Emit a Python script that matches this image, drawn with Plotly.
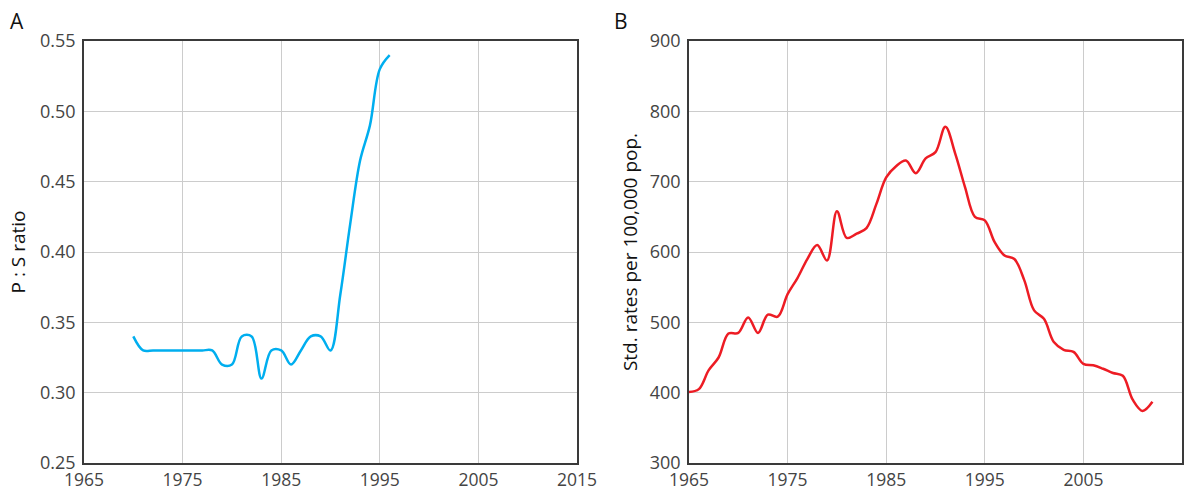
import plotly.graph_objects as go
from plotly.subplots import make_subplots

# Panel A: P:S ratio
years_a = list(range(1970, 1997))
ps_ratio = [0.34, 0.33, 0.33, 0.33, 0.33, 0.33, 0.33, 0.33, 0.33, 0.32,
            0.32, 0.34, 0.34, 0.31, 0.33, 0.33, 0.32, 0.33, 0.34, 0.34,
            0.33, 0.37, 0.42, 0.465, 0.49, 0.53, 0.54]

# Panel B: standardised rates per 100,000 pop.
years_b = list(range(1965, 2013))
std_rates = [401, 405, 432, 450, 484, 485, 507, 485, 511, 508,
             540, 563, 590, 610, 588, 658, 620, 626, 634, 668,
             706, 722, 730, 712, 733, 742, 778, 740, 692, 650,
             645, 614, 595, 590, 560, 517, 505, 472, 461, 458,
             441, 439, 434, 428, 424, 390, 374, 387]

x_ticks = [1965, 1975, 1985, 1995, 2005, 2015]
ya_ticks = [0.25, 0.30, 0.35, 0.40, 0.45, 0.50, 0.55]
yb_ticks = [300, 400, 500, 600, 700, 800, 900]

FONT = "Open Sans"

fig = make_subplots(rows=1, cols=2, horizontal_spacing=0.102)

fig.add_trace(go.Scatter(x=years_a, y=ps_ratio, mode="lines",
                         line=dict(color="#00AEEF", width=2.5, shape="spline", smoothing=1),
                         showlegend=False), row=1, col=1)
fig.add_trace(go.Scatter(x=years_b, y=std_rates, mode="lines",
                         line=dict(color="#ED1C24", width=2.5, shape="spline", smoothing=1),
                         showlegend=False), row=1, col=2)

axis_common = dict(showgrid=True, gridcolor="#cccccc", gridwidth=1,
                   showline=True, linecolor="#3a3a3a", linewidth=1.5, mirror=True,
                   zeroline=False, ticks="", automargin=False)

fig.update_xaxes(range=[1965, 2015], tickvals=x_ticks, ticktext=[str(t) for t in x_ticks],
                 ticklabelstandoff=0, tickfont=dict(family=FONT, size=17.5, color="#444444"),
                 **axis_common)
fig.update_yaxes(ticklabelstandoff=3, tickfont=dict(family=FONT, size=18, color="#444444"),
                 **axis_common)

fig.update_xaxes(domain=[0, 0.449], row=1, col=1)
fig.update_xaxes(domain=[0.551, 1.0], row=1, col=2)

fig.update_yaxes(range=[0.25, 0.55], tickvals=ya_ticks,
                 ticktext=[f"{v:.2f}" for v in ya_ticks],
                 title=dict(text="P : S ratio", font=dict(family=FONT, size=19, color="#111111"), standoff=9),
                 row=1, col=1)
fig.update_yaxes(range=[300, 900], tickvals=yb_ticks,
                 ticktext=[str(v) for v in yb_ticks],
                 title=dict(text="Std. rates per 100,000 pop.", font=dict(family=FONT, size=19, color="#111111"), standoff=7),
                 row=1, col=2)

fig.add_annotation(text="A", xref="paper", yref="paper", x=-0.061, y=1.0,
                   xanchor="center", yanchor="bottom", yshift=4, showarrow=False,
                   font=dict(family=FONT, size=21, color="#111111"))
fig.add_annotation(text="B", xref="paper", yref="paper", x=0.489, y=1.0,
                   xanchor="center", yanchor="bottom", yshift=4, showarrow=False,
                   font=dict(family=FONT, size=21, color="#111111"))

fig.update_layout(width=1198, height=489,
                  margin=dict(l=84, r=16, t=41, b=26),
                  paper_bgcolor="white", plot_bgcolor="white",
                  font=dict(family=FONT))

# remove the page body's default margin so the figure fills the window exactly
fig.write_html("out.html", config={"displayModeBar": False},
               post_script="document.body.style.margin='0';")
